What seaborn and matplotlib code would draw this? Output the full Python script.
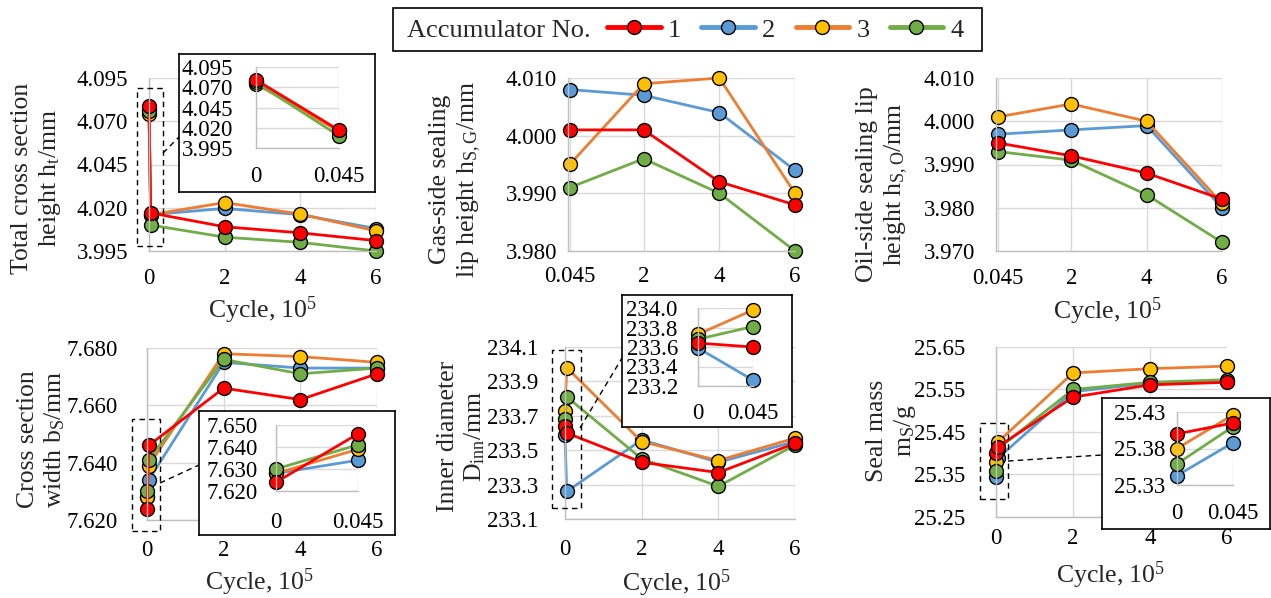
import numpy as np
import pandas as pd
import matplotlib
matplotlib.use("Agg")
import matplotlib.pyplot as plt
import seaborn as sns
from matplotlib.patches import Rectangle
from matplotlib.lines import Line2D

# ---------------- data ----------------
cycles_full = [0, 0.045, 2, 4, 6]
cycles_late = [0.045, 2, 4, 6]
accumulators = ["1", "2", "3", "4"]

ht_1 = [4.079, 4.017, 4.009, 4.0055, 4.001]
ht_2 = [4.077, 4.016, 4.0196, 4.016, 4.008]
ht_3 = [4.074, 4.016, 4.023, 4.0163, 4.0066]
ht_4 = [4.076, 4.010, 4.003, 4.000, 3.995]

hsg_1 = [4.001, 4.001, 3.992, 3.988]
hsg_2 = [4.008, 4.007, 4.004, 3.994]
hsg_3 = [3.995, 4.009, 4.010, 3.990]
hsg_4 = [3.991, 3.996, 3.990, 3.980]

hso_1 = [3.995, 3.992, 3.988, 3.982]
hso_2 = [3.997, 3.998, 3.999, 3.980]
hso_3 = [4.001, 4.004, 4.000, 3.981]
hso_4 = [3.993, 3.991, 3.983, 3.972]

bs_1 = [7.624, 7.646, 7.666, 7.662, 7.671]
bs_2 = [7.628, 7.634, 7.675, 7.673, 7.673]
bs_3 = [7.628, 7.639, 7.678, 7.677, 7.675]
bs_4 = [7.630, 7.641, 7.676, 7.671, 7.673]

dinn_1 = [233.64, 233.60, 233.43, 233.37, 233.54]
dinn_2 = [233.59, 233.26, 233.56, 233.43, 233.55]
dinn_3 = [233.73, 233.98, 233.55, 233.44, 233.57]
dinn_4 = [233.68, 233.81, 233.45, 233.29, 233.53]

ms_1 = [25.400, 25.415, 25.532, 25.561, 25.567]
ms_2 = [25.343, 25.388, 25.545, 25.565, 25.571]
ms_3 = [25.380, 25.426, 25.589, 25.599, 25.605]
ms_4 = [25.359, 25.410, 25.550, 25.567, 25.573]

xticks_full = [0, 2, 4, 6]
xticklabels_full = ["0", "2", "4", "6"]
xticks_late = [0.045, 2, 4, 6]
xticklabels_late = ["0.045", "2", "4", "6"]
xticks_inset = [0, 0.045]
xticklabels_inset = ["0", "0.045"]

yticks_ht = [3.995, 4.020, 4.045, 4.070, 4.095]
yticks_hsg = [3.980, 3.990, 4.000, 4.010]
yticks_hso = [3.970, 3.980, 3.990, 4.000, 4.010]
yticks_bs = [7.620, 7.640, 7.660, 7.680]
yticks_bs_in = [7.620, 7.630, 7.640, 7.650]
yticks_dinn = [233.1, 233.3, 233.5, 233.7, 233.9, 234.1]
yticks_dinn_in = [233.2, 233.4, 233.6, 233.8, 234.0]
yticks_ms = [25.25, 25.35, 25.45, 25.55, 25.65]
yticks_ms_in = [25.33, 25.38, 25.43]

ylabels = [
    "Total cross section\nheight h$_\\mathrm{t}$/mm",
    "Gas-side sealing\nlip height h$_\\mathrm{S,G}$/mm",
    "Oil-side sealing lip\nheight h$_\\mathrm{S,O}$/mm",
    "Cross section\nwidth b$_\\mathrm{S}$/mm",
    "Inner diameter\nD$_\\mathrm{inn}$/mm",
    "Seal mass\nm$_\\mathrm{S}$/g",
]
xlabel_text = "Cycle, 10$^\\mathrm{5}$"
legend_title = "Accumulator No."

# ---------------- style ----------------
sns.set_style("white")
plt.rcParams["font.family"] = ["Liberation Serif", "DejaVu Serif"]
plt.rcParams["mathtext.fontset"] = "custom"
plt.rcParams["mathtext.rm"] = "Liberation Serif"
plt.rcParams["mathtext.it"] = "Liberation Serif:italic"
plt.rcParams["mathtext.bf"] = "Liberation Serif:bold"

LINE = {"1": "#FF0000", "2": "#5B9BD5", "3": "#ED7D31", "4": "#70AD47"}
FACE = {"1": "#FF0000", "2": "#5B9BD5", "3": "#FFC000", "4": "#70AD47"}
DRAW_ORDER = ["2", "3", "4", "1"]
TICK_FS = 16.5
LABEL_FS = 18.5
GRID_C = "#D9D9D9"
SPINE_C = "#BFBFBF"

W, H = 1271, 598
fig = plt.figure(figsize=(W / 100, H / 100), dpi=100)


def rect(l, t, r, b):
    return [l / W, 1 - b / H, (r - l) / W, (b - t) / H]


def long_df(x, series):
    frames = []
    for k, vals in zip(accumulators, series):
        frames.append(pd.DataFrame({"cycle": x[: len(vals)], "value": vals, "acc": k}))
    return pd.concat(frames, ignore_index=True)


def draw_series(ax, df):
    for k in DRAW_ORDER:
        sub = df[df["acc"] == k]
        sns.lineplot(data=sub, x="cycle", y="value", ax=ax, color=LINE[k],
                     marker="o", markersize=10, markerfacecolor=FACE[k],
                     markeredgecolor="black", markeredgewidth=1.0,
                     linewidth=2.0, estimator=None, sort=False,
                     legend=False, clip_on=False)
    ax.set_xlabel("")
    ax.set_ylabel("")


def style_axes(ax, xlim, ylim, xt, xtl, yt, yfmt, xpad, ypad):
    ax.set_xlim(*xlim)
    ax.set_ylim(*ylim)
    ax.set_xticks(xt)
    ax.set_xticklabels(xtl)
    ax.set_yticks(yt)
    ax.set_yticklabels([yfmt.format(v) for v in yt])
    ax.grid(True, color=GRID_C, lw=1.0)
    ax.set_axisbelow(True)
    for s in ["top", "right"]:
        ax.spines[s].set_visible(False)
    for s in ["left", "bottom"]:
        ax.spines[s].set_color(SPINE_C)
        ax.spines[s].set_linewidth(1.0)
    ax.tick_params(axis="both", length=0, labelsize=TICK_FS, colors="black")
    ax.tick_params(axis="x", pad=xpad)
    ax.tick_params(axis="y", pad=ypad)
    ax.set_facecolor("white")


def dashed_box(l, t, r, b):
    fig.add_artist(Rectangle((l / W, 1 - b / H), (r - l) / W, (b - t) / H,
                             transform=fig.transFigure, fill=False,
                             ls=(0, (4, 3)), ec="black", lw=1.0, zorder=6))


def connector(x1, y1, x2, y2):
    fig.add_artist(Line2D([x1 / W, x2 / W], [1 - y1 / H, 1 - y2 / H],
                          transform=fig.transFigure, ls=(0, (4, 3)),
                          color="black", lw=1.0, zorder=6))


def inset_frame(l, t, r, b):
    fa = fig.add_axes(rect(l, t, r, b), zorder=4)
    fa.set_xticks([])
    fa.set_yticks([])
    fa.set_facecolor("white")
    for s in fa.spines.values():
        s.set_color("black")
        s.set_linewidth(1.2)
    return fa


# ---------------- panels ----------------
panels = [
    dict(pos=(149, 78, 376, 251), x=cycles_full, series=[ht_1, ht_2, ht_3, ht_4],
         ylim=(3.995, 4.095), yt=yticks_ht, fmt="{:.3f}", xt=xticks_full, xtl=xticklabels_full,
         xpad=12, ypad=15, lab=(37, 178), xl=(263, 310)),
    dict(pos=(568, 78, 795, 251), x=cycles_late, series=[hsg_1, hsg_2, hsg_3, hsg_4],
         ylim=(3.980, 4.010), yt=yticks_hsg, fmt="{:.3f}", xt=xticks_late, xtl=xticklabels_late,
         xpad=11, ypad=8, lab=(456, 179), xl=None),
    dict(pos=(996, 78, 1222, 251), x=cycles_late, series=[hso_1, hso_2, hso_3, hso_4],
         ylim=(3.970, 4.010), yt=yticks_hso, fmt="{:.3f}", xt=xticks_late, xtl=xticklabels_late,
         xpad=12, ypad=15, lab=(883, 184), xl=(1108, 311)),
    dict(pos=(147, 348, 377, 520), x=cycles_full, series=[bs_1, bs_2, bs_3, bs_4],
         ylim=(7.620, 7.680), yt=yticks_bs, fmt="{:.3f}", xt=xticks_full, xtl=xticklabels_full,
         xpad=14.5, ypad=21, lab=(42, 439), xl=(260, 582)),
    dict(pos=(565, 347, 795, 519), x=cycles_full, series=[dinn_1, dinn_2, dinn_3, dinn_4],
         ylim=(233.1, 234.1), yt=yticks_dinn, fmt="{:.1f}", xt=xticks_full, xtl=xticklabels_full,
         xpad=14.5, ypad=19.5, lab=(462, 436), xl=(677, 583)),
    dict(pos=(996, 347, 1227, 517), x=cycles_full, series=[ms_1, ms_2, ms_3, ms_4],
         ylim=(25.25, 25.65), yt=yticks_ms, fmt="{:.2f}", xt=xticks_full, xtl=xticklabels_full,
         xpad=8, ypad=22, lab=(892, 431), xl=(1111, 575)),
]

for i, p in enumerate(panels):
    ax = fig.add_axes(rect(*p["pos"]), zorder=1)
    draw_series(ax, long_df(p["x"], p["series"]))
    style_axes(ax, (0, 6), p["ylim"], p["xt"], p["xtl"], p["yt"], p["fmt"], p["xpad"], p["ypad"])
    fig.text(p["lab"][0] / W, 1 - p["lab"][1] / H, ylabels[i], rotation=90,
             ha="center", va="center", multialignment="center", fontsize=LABEL_FS)
    if p["xl"] is not None:
        fig.text(p["xl"][0] / W, 1 - p["xl"][1] / H, xlabel_text,
                 ha="center", va="center", fontsize=LABEL_FS)

# ---------------- insets ----------------
insets = [
    dict(frame=(179, 54, 375, 192), pos=(256, 67, 339, 148), series=[ht_1, ht_2, ht_3, ht_4],
         ylim=(3.995, 4.095), yt=yticks_ht, fmt="{:.3f}", xpad=13, ypad=16.5,
         box=(137, 88, 163, 246), con=(163, 153, 179, 137)),
    dict(frame=(199, 411, 395, 535), pos=(276, 425, 358, 491), series=[bs_1, bs_2, bs_3, bs_4],
         ylim=(7.620, 7.650), yt=yticks_bs_in, fmt="{:.3f}", xpad=15, ypad=13,
         box=(132, 419, 160, 531), con=(160, 483, 199, 465)),
    dict(frame=(622, 295, 792, 427), pos=(698, 308, 753, 386), series=[dinn_1, dinn_2, dinn_3, dinn_4],
         ylim=(233.2, 234.0), yt=yticks_dinn_in, fmt="{:.1f}", xpad=12, ypad=14.5,
         box=(552, 350, 581, 508), con=(580, 428, 622, 358)),
    dict(frame=(1102, 398, 1270, 529), pos=(1177, 412, 1233, 485), series=[ms_1, ms_2, ms_3, ms_4],
         ylim=(25.33, 25.43), yt=yticks_ms_in, fmt="{:.2f}", xpad=13, ypad=8.6,
         box=(980, 423, 1008, 499), con=(1008, 461, 1102, 455)),
]

for p in insets:
    inset_frame(*p["frame"])
    ia = fig.add_axes(rect(*p["pos"]), zorder=5)
    first_two = [s[:2] for s in p["series"]]
    draw_series(ia, long_df(cycles_full[:2], first_two))
    style_axes(ia, (0, 0.045), p["ylim"], xticks_inset, xticklabels_inset,
               p["yt"], p["fmt"], p["xpad"], p["ypad"])
    ia.patch.set_alpha(0)
    dashed_box(*p["box"])
    connector(*p["con"])

# ---------------- legend ----------------
fig.add_artist(Rectangle((393 / W, 1 - 51 / H), (982 - 393) / W, (51 - 8) / H,
                         transform=fig.transFigure, fill=False, ec="black", lw=1.2, zorder=6))
fig.text(407 / W, 1 - 31 / H, legend_title, ha="left", va="center", fontsize=19)
handles = [Line2D([], [], color=LINE[k], lw=3.5, marker="o", markersize=10,
                  markerfacecolor=FACE[k], markeredgecolor="black", markeredgewidth=1.0)
           for k in accumulators]
fig.legend(handles, accumulators, loc="center left", bbox_to_anchor=(607 / W, 1 - 30 / H),
           ncol=4, frameon=False, handlelength=2.03, handletextpad=0.27,
           columnspacing=0.77, borderpad=0, borderaxespad=0, fontsize=19)

fig.savefig("out.png", dpi=100)
